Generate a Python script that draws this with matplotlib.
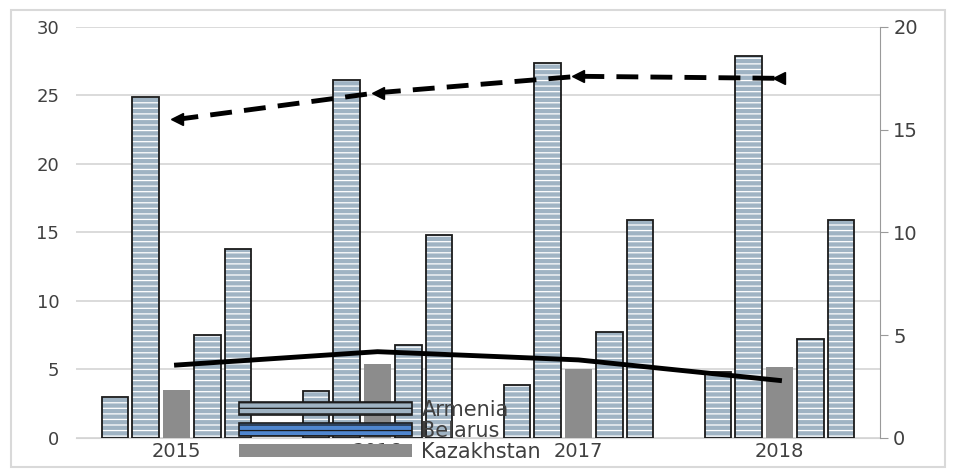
import numpy as np
import matplotlib
matplotlib.use('Agg')
import matplotlib.pyplot as plt
from matplotlib.patches import Rectangle, Patch

# Data
years = ['2015', '2016', '2017', '2018']
armenia = [3.0, 3.4, 3.9, 4.8]
belarus = [24.9, 26.1, 27.4, 27.9]
kazakhstan = [3.5, 5.4, 5.0, 5.2]
kyrgyzstan = [7.5, 6.8, 7.7, 7.2]
russia = [13.8, 14.8, 15.9, 15.9]

# lines on the secondary axis
dashed_vals = [15.5, 16.8, 17.6, 17.5]
solid_vals = [3.55, 4.2, 3.8, 2.8]

plt.rcParams['hatch.linewidth'] = 0.9

fig = plt.figure(figsize=(9.56, 4.73), dpi=100)
fig.patches.append(Rectangle((0.012, 0.012), 0.976, 0.966, transform=fig.transFigure,
                             fill=False, edgecolor='#d9d9d9', linewidth=1.5))
ax = fig.add_axes([0.0795, 0.074, 0.841, 0.869])
ax2 = ax.twinx()

x = np.arange(len(years))
step = 0.154
width = 0.13
hatch_fill = '#9fb3c3'

series = [armenia, belarus, kazakhstan, kyrgyzstan, russia]
for i, vals in enumerate(series):
    pos = x + (i - 2) * step
    if i == 2:
        ax.bar(pos, vals, width, color='#8c8c8c', zorder=3)
    else:
        ax.bar(pos, vals, width, color=hatch_fill, edgecolor='white', hatch='---',
               linewidth=0, zorder=3)
        ax.bar(pos, vals, width, fill=False, edgecolor='#1a1a1a', linewidth=1.3, zorder=4)

ax.set_ylim(0, 30)
ax.set_xlim(-0.5, 3.5)
ax.set_yticks(range(0, 31, 5))
ax.set_xticks(x)
ax.set_xticklabels(years)
ax.grid(axis='y', color='#d4d4d4', linewidth=1.2, zorder=0)
ax.set_axisbelow(True)
for s in ['left', 'top', 'right']:
    ax.spines[s].set_visible(False)
ax.spines['bottom'].set_color('#d4d4d4')
ax.tick_params(axis='y', length=0, labelsize=13, colors='#404040', pad=12)
ax.tick_params(axis='x', length=0, labelsize=14, colors='#404040', pad=3)

ax2.set_ylim(0, 20)
ax2.set_yticks(range(0, 21, 5))
for s in ['left', 'top', 'bottom']:
    ax2.spines[s].set_visible(False)
ax2.spines['right'].set_color('#9a9a9a')
ax2.tick_params(axis='y', length=6, color='#9a9a9a', labelsize=14, colors='#404040')

ax2.plot(x, dashed_vals, color='black', linewidth=3.5, linestyle=(0, (4.5, 2.5)),
         marker='<', markersize=9, zorder=5)
ax2.plot(x, solid_vals, color='black', linewidth=3.5, zorder=5)

handles = [
    Patch(facecolor=hatch_fill, edgecolor='#1a1a1a', hatch='---', linewidth=1.2),
    Patch(facecolor='#4f86cf', edgecolor='#1a1a1a', hatch='---', linewidth=1.2),
    Patch(facecolor='#8c8c8c', edgecolor='none'),
]
ax2.legend(handles, ['Armenia', 'Belarus', 'Kazakhstan'], loc='upper left',
           bbox_to_anchor=(0.19, 0.118), frameon=False, handlelength=8.3,
           handleheight=0.55, fontsize=15, labelspacing=0.05, handletextpad=0.45,
           borderpad=0, labelcolor='#404040')

fig.savefig('out.png', dpi=100)
